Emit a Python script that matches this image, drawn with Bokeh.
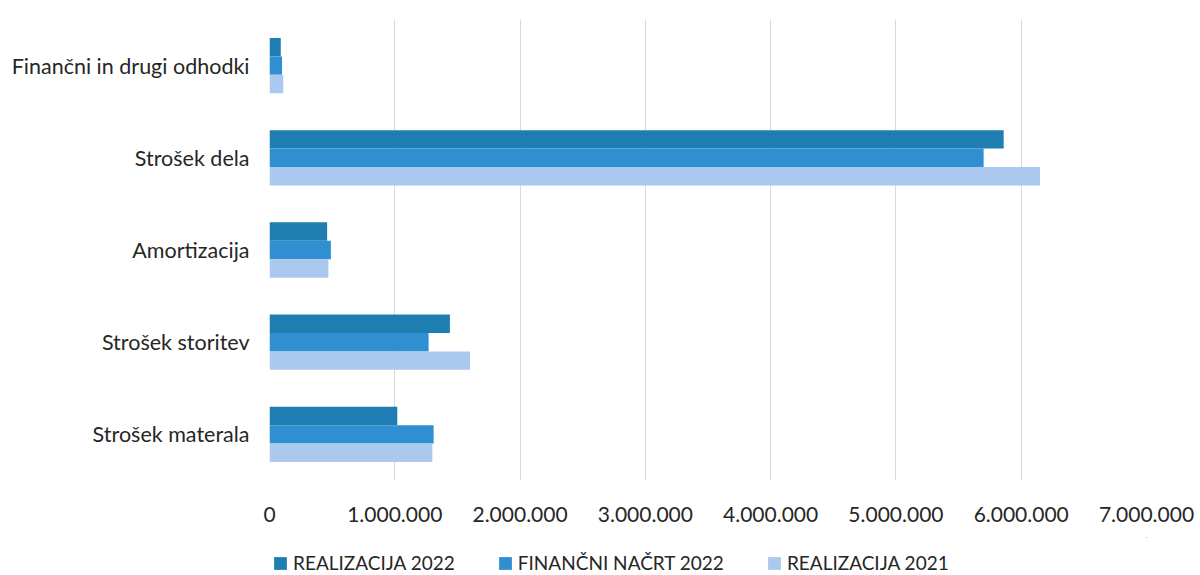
from bokeh.plotting import figure
from bokeh.layouts import column
from bokeh.models import ColumnDataSource, FactorRange, FixedTicker, Legend, LegendItem, Range1d
from bokeh.transform import dodge
from bokeh.embed import file_html
from bokeh.resources import INLINE

categories = ["Strošek materala", "Strošek storitev", "Amortizacija", "Strošek dela", "Finančni in drugi odhodki"]
realizacija_2022 = [1020000, 1440000, 460000, 5860000, 90000]
financni_nacrt_2022 = [1310000, 1270000, 490000, 5700000, 100000]
realizacija_2021 = [1300000, 1600000, 470000, 6150000, 110000]
x_ticks = [0, 1000000, 2000000, 3000000, 4000000, 5000000, 6000000, 7000000]
series_names = ["REALIZACIJA 2022", "FINANČNI NAČRT 2022", "REALIZACIJA 2021"]
colors = ["#1f7eb1", "#2f8fd0", "#abc8ee"]

src = ColumnDataSource(dict(cat=categories, r22=realizacija_2022, fn22=financni_nacrt_2022, r21=realizacija_2021))

FONT = "Lato"
W = 1196
p = figure(width=W, height=537, y_range=FactorRange(factors=categories),
           x_range=Range1d(0, 7000000), output_backend="svg", toolbar_location=None,
           min_border_left=269, min_border_right=50, min_border_top=19, min_border_bottom=57)

cols = ["r22", "fn22", "r21"]
offsets = [0.2, 0.0, -0.2]
for c, off, col in zip(cols, offsets, colors):
    p.hbar(y=dodge("cat", off, range=p.y_range), right=c, left=0, height=0.2,
           source=src, fill_color=col, line_color=None)

p.outline_line_color = None
p.ygrid.grid_line_color = None
p.xgrid.grid_line_color = "#d9d9d9"
p.xgrid.ticker = FixedTicker(ticks=x_ticks)

p.xaxis.ticker = FixedTicker(ticks=x_ticks)
p.xaxis.major_label_overrides = {t: ("{:,}".format(t).replace(",", ".")) for t in x_ticks}
p.xaxis.axis_line_color = None
p.xaxis.major_tick_line_color = None
p.xaxis.minor_tick_line_color = None
p.xaxis.major_label_text_font = FONT
p.xaxis.major_label_text_font_size = "21px"
p.xaxis.major_label_text_color = "#262626"
p.xaxis.major_label_standoff = 20

p.yaxis.axis_line_color = None
p.yaxis.major_tick_line_color = None
p.yaxis.major_label_text_font = FONT
p.yaxis.major_label_text_font_size = "21.5px"
p.yaxis.major_label_text_color = "#262626"
p.yaxis.major_label_standoff = 14

# legend strip below the chart; proxy renderers use the series data, which lies
# far outside this strip's 0..1 ranges, so only the legend swatches show
lg = figure(width=W, height=37, x_range=Range1d(0, 1), y_range=Range1d(0, 1),
            output_backend="svg", toolbar_location=None,
            min_border_left=269, min_border_right=50, min_border_top=0, min_border_bottom=0,
            x_axis_location=None, y_axis_location=None)
lg.outline_line_color = None
lg.grid.visible = False
legend_renderers = [lg.hbar(y=c, right=c, left=c, height=1, source=src,
                            fill_color=col, line_color=None)
                    for c, col in zip(cols, colors)]
legend = Legend(items=[LegendItem(label=n, renderers=[r]) for n, r in zip(series_names, legend_renderers)],
                orientation="horizontal", location=(3, 0),
                label_text_font=FONT, label_text_font_size="19px", label_text_color="#262626",
                glyph_width=16, glyph_height=16, spacing=42, label_standoff=5,
                border_line_color=None, background_fill_alpha=0, margin=0, padding=0)
lg.add_layout(legend, "center")

layout = column(p, lg, spacing=0)
open("out.html", "w").write(file_html(layout, INLINE))
